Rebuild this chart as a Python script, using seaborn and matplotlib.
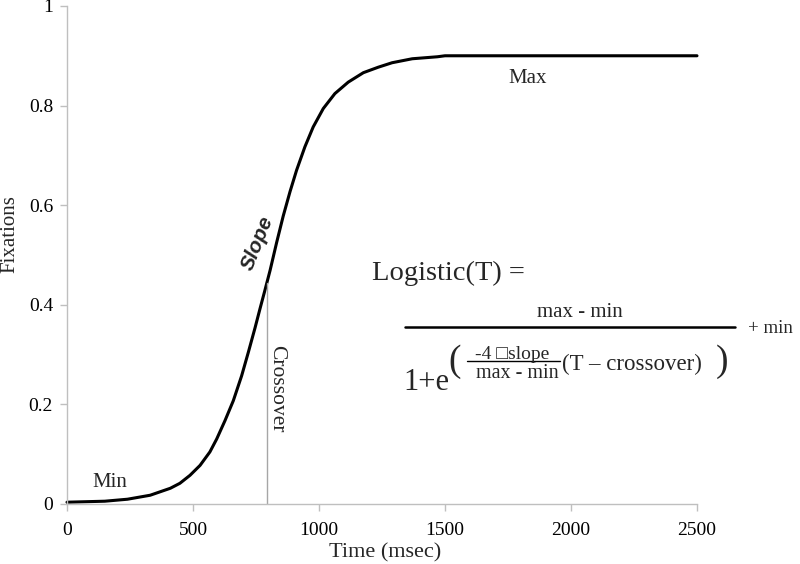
import numpy as np
import pandas as pd
import matplotlib
matplotlib.use('Agg')
import matplotlib.pyplot as plt
import seaborn as sns

# ------------------------------------------------------------
# data
# ------------------------------------------------------------
time_ms = [0, 150, 240, 330, 410, 448, 488, 528, 567, 594, 627, 660, 693,
           720, 746, 766, 786, 806, 832, 858, 885, 911, 944, 977, 1017,
           1063, 1116, 1176, 1235, 1290, 1370, 1470, 1500, 2500]
fixations = [0.003, 0.005, 0.009, 0.017, 0.031, 0.041, 0.057, 0.077, 0.104,
             0.130, 0.167, 0.207, 0.257, 0.305, 0.353, 0.392, 0.430, 0.469,
             0.525, 0.578, 0.627, 0.670, 0.717, 0.757, 0.794, 0.824, 0.847,
             0.866, 0.877, 0.886, 0.894, 0.898, 0.900, 0.900]

x_ticks = [0, 500, 1000, 1500, 2000, 2500]
y_ticks = [0, 0.2, 0.4, 0.6, 0.8, 1]
y_ticklabels = ['0', '0.2', '0.4', '0.6', '0.8', '1']

crossover_ms = 795
crossover_top = 0.444

df = pd.DataFrame({'Time': time_ms, 'Fixations': fixations})

sns.set_style('white')
plt.rcParams['font.family'] = ['Liberation Serif', 'DejaVu Sans']

GRAY = '#bfbfbf'

fig = plt.figure(figsize=(8, 5.64), dpi=100)
ax = fig.add_axes([67 / 800, 60.3 / 564, 630 / 800, 497.7 / 564])

sns.lineplot(data=df, x='Time', y='Fixations', ax=ax, color='black',
             linewidth=2.2, clip_on=False)

# crossover marker line
ax.plot([crossover_ms, crossover_ms], [0, crossover_top], color='#a6a6a6',
        linewidth=1)

ax.set_xlim(0, 2500)
ax.set_ylim(0, 1)
ax.set_xticks(x_ticks)
ax.set_xticklabels([str(t) for t in x_ticks])
ax.set_yticks(y_ticks)
ax.set_yticklabels(y_ticklabels)

for side in ['top', 'right']:
    ax.spines[side].set_visible(False)
for side in ['left', 'bottom']:
    ax.spines[side].set_color(GRAY)
    ax.spines[side].set_linewidth(1)
ax.tick_params(axis='both', which='major', direction='out', length=5,
               width=1, color=GRAY, labelsize=14, labelcolor='black')
ax.tick_params(axis='x', pad=8)
ax.tick_params(axis='y', pad=5)
ax.tick_params(axis='both', bottom=True, left=True)

ax.set_xlabel('Time (msec)', fontsize=16)
ax.set_ylabel('Fixations', fontsize=15)
ax.xaxis.set_label_coords(0.505, -0.079)
ax.yaxis.set_label_coords(-0.076, 0.541)

# annotations on the curve
ax.text(171, 0.034, 'Min', fontsize=15, ha='center', va='baseline')
ax.text(1829, 0.846, 'Max', fontsize=15, ha='center', va='baseline')
ax.text(833, 0.231, 'Crossover', fontsize=15.5, ha='center', va='center',
        rotation=-90)
ax.text(755, 0.523, 'Slope', fontsize=15, ha='center', va='center',
        rotation=68, family='Liberation Sans', fontweight='bold',
        fontstyle='italic')

# formula
ax.text(1210, 0.450, 'Logistic(T) =', fontsize=20.5, ha='left',
        va='baseline')
ax.plot([1341, 2651], [0.355, 0.355], color='black', linewidth=1.8,
        clip_on=False)
ax.text(2036, 0.375, 'max - min', fontsize=15, ha='center', va='baseline')
ax.text(2702, 0.343, '+ min', fontsize=13.5, ha='left', va='baseline')
ax.text(1333, 0.229, '1+e', fontsize=22, ha='left', va='baseline')
ax.text(1540, 0.286, '(', fontsize=27, ha='center', va='center')
ax.text(2599, 0.286, ')', fontsize=27, ha='center', va='center')
ax.plot([1587, 1956], [0.286, 0.286], color='black', linewidth=1,
        clip_on=False)
ax.text(1765, 0.291, '-4 \u25a1slope', fontsize=14, ha='center',
        va='baseline')
ax.text(1788, 0.252, 'max - min', fontsize=14.5, ha='center', va='baseline')
ax.text(1964, 0.269, '(T \u2013 crossover)', fontsize=16.5, ha='left',
        va='baseline')

fig.savefig('out.png', dpi=100)
plt.close(fig)
